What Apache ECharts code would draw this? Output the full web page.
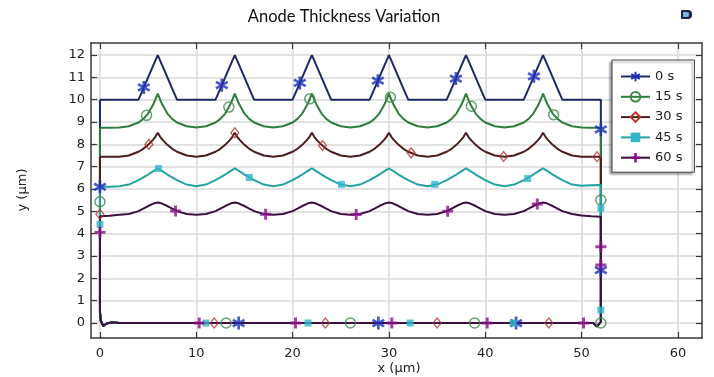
<!DOCTYPE html>
<html><head><meta charset="utf-8">
<script src="https://cdn.jsdelivr.net/npm/echarts@6/dist/echarts.min.js"></script>
<style>html,body{margin:0;padding:0;background:#fff}#c{width:714px;height:377px}</style>
</head><body><div id="c"></div>
<script>
// ---- data ----
const seriesNames = ['0 s', '15 s', '30 s', '45 s', '60 s'];
const xTicks = [0, 10, 20, 30, 40, 50, 60];
const yTicks = [0, 1, 2, 3, 4, 5, 6, 7, 8, 9, 10, 11, 12];

// x positions along the top (free) boundary
const topX = [0, 1,
  2, 3, 4, 4.5, 5, 5.5, 5.75, 6, 6.25, 6.5, 7, 7.5, 8, 9,
  10, 11, 12, 12.5, 13, 13.5, 13.75, 14, 14.25, 14.5, 15, 15.5, 16, 17,
  18, 19, 20, 20.5, 21, 21.5, 21.75, 22, 22.25, 22.5, 23, 23.5, 24, 25,
  26, 27, 28, 28.5, 29, 29.5, 29.75, 30, 30.25, 30.5, 31, 31.5, 32, 33,
  34, 35, 36, 36.5, 37, 37.5, 37.75, 38, 38.25, 38.5, 39, 39.5, 40, 41,
  42, 43, 44, 44.5, 45, 45.5, 45.75, 46, 46.25, 46.5, 47, 47.5, 48, 49,
  50, 51, 52];

const top0 = [10, 10,
  10, 10, 10, 10.5, 11, 11.5, 11.75, 12, 11.75, 11.5, 11, 10.5, 10, 10,
  10, 10, 10, 10.5, 11, 11.5, 11.75, 12, 11.75, 11.5, 11, 10.5, 10, 10,
  10, 10, 10, 10.5, 11, 11.5, 11.75, 12, 11.75, 11.5, 11, 10.5, 10, 10,
  10, 10, 10, 10.5, 11, 11.5, 11.75, 12, 11.75, 11.5, 11, 10.5, 10, 10,
  10, 10, 10, 10.5, 11, 11.5, 11.75, 12, 11.75, 11.5, 11, 10.5, 10, 10,
  10, 10, 10, 10.5, 11, 11.5, 11.75, 12, 11.75, 11.5, 11, 10.5, 10, 10,
  10, 10, 10];

const top15 = [8.75, 8.75,
  8.76, 8.81, 8.98, 9.14, 9.38, 9.76, 10.0, 10.27, 10.0, 9.76, 9.38, 9.14, 8.98, 8.81,
  8.76, 8.81, 8.98, 9.14, 9.38, 9.76, 10.0, 10.27, 10.0, 9.76, 9.38, 9.14, 8.98, 8.81,
  8.76, 8.81, 8.98, 9.14, 9.38, 9.76, 10.0, 10.27, 10.0, 9.76, 9.38, 9.14, 8.98, 8.81,
  8.76, 8.81, 8.98, 9.14, 9.38, 9.76, 10.0, 10.27, 10.0, 9.76, 9.38, 9.14, 8.98, 8.81,
  8.76, 8.81, 8.98, 9.14, 9.38, 9.76, 10.0, 10.27, 10.0, 9.76, 9.38, 9.14, 8.98, 8.81,
  8.76, 8.81, 8.98, 9.14, 9.38, 9.76, 10.0, 10.27, 10.0, 9.76, 9.38, 9.14, 8.98, 8.81,
  8.76, 8.75, 8.75];

const top30 = [7.45, 7.45,
  7.45, 7.5, 7.67, 7.8, 7.98, 8.2, 8.34, 8.52, 8.34, 8.2, 7.98, 7.8, 7.67, 7.5,
  7.45, 7.5, 7.67, 7.8, 7.98, 8.2, 8.34, 8.52, 8.34, 8.2, 7.98, 7.8, 7.67, 7.5,
  7.45, 7.5, 7.67, 7.8, 7.98, 8.2, 8.34, 8.52, 8.34, 8.2, 7.98, 7.8, 7.67, 7.5,
  7.45, 7.5, 7.67, 7.8, 7.98, 8.2, 8.34, 8.52, 8.34, 8.2, 7.98, 7.8, 7.67, 7.5,
  7.45, 7.5, 7.67, 7.8, 7.98, 8.2, 8.34, 8.52, 8.34, 8.2, 7.98, 7.8, 7.67, 7.5,
  7.45, 7.5, 7.67, 7.8, 7.98, 8.2, 8.34, 8.52, 8.34, 8.2, 7.98, 7.8, 7.67, 7.5,
  7.45, 7.45, 7.45];

const top45 = [6.1, 6.1,
  6.13, 6.2, 6.4, 6.52, 6.65, 6.79, 6.86, 6.93, 6.86, 6.79, 6.65, 6.52, 6.4, 6.2,
  6.13, 6.2, 6.4, 6.52, 6.65, 6.79, 6.86, 6.93, 6.86, 6.79, 6.65, 6.52, 6.4, 6.2,
  6.13, 6.2, 6.4, 6.52, 6.65, 6.79, 6.86, 6.93, 6.86, 6.79, 6.65, 6.52, 6.4, 6.2,
  6.13, 6.2, 6.4, 6.52, 6.65, 6.79, 6.86, 6.93, 6.86, 6.79, 6.65, 6.52, 6.4, 6.2,
  6.13, 6.2, 6.4, 6.52, 6.65, 6.79, 6.86, 6.93, 6.86, 6.79, 6.65, 6.52, 6.4, 6.2,
  6.13, 6.2, 6.4, 6.52, 6.65, 6.79, 6.86, 6.93, 6.86, 6.79, 6.65, 6.52, 6.4, 6.2,
  6.15, 6.17, 6.18];

const top60 = [4.78, 4.8,
  4.85, 4.88, 5.01, 5.12, 5.24, 5.34, 5.38, 5.4, 5.38, 5.34, 5.24, 5.12, 5.01, 4.88,
  4.85, 4.88, 5.01, 5.12, 5.24, 5.34, 5.38, 5.4, 5.38, 5.34, 5.24, 5.12, 5.01, 4.88,
  4.85, 4.88, 5.01, 5.12, 5.24, 5.34, 5.38, 5.4, 5.38, 5.34, 5.24, 5.12, 5.01, 4.88,
  4.85, 4.88, 5.01, 5.12, 5.24, 5.34, 5.38, 5.4, 5.38, 5.34, 5.24, 5.12, 5.01, 4.88,
  4.85, 4.88, 5.01, 5.12, 5.24, 5.34, 5.38, 5.4, 5.38, 5.34, 5.24, 5.12, 5.01, 4.88,
  4.85, 4.88, 5.01, 5.12, 5.24, 5.34, 5.38, 5.4, 5.38, 5.34, 5.24, 5.12, 5.01, 4.88,
  4.82, 4.78, 4.76];

// right side down, bottom boundary back to x = 0, then up the left side
const bottomPath = [[52, 0.05], [51.6, -0.15], [51.2, 0], [2, 0], [1.2, 0.03], [0.7, -0.02],
  [0.35, -0.13], [0.08, 0.1], [0, 0.5]];

// marker positions along each boundary
const marks0 = [[0, 6.1], [4.55, 10.55], [12.65, 10.65], [20.75, 10.75], [28.85, 10.85], [36.95, 10.95],
  [45.05, 11.05], [52, 8.67], [52, 2.37], [43.2, 0], [28.9, 0], [14.4, 0]];
const marks15 = [[0, 5.43], [4.84, 9.3], [13.38, 9.67], [21.78, 10.04], [30.15, 10.11], [38.56, 9.71],
  [47.1, 9.33], [52, 5.51], [52, 0], [38.9, 0], [26.0, 0], [13.1, 0]];
const marks30 = [[0, 4.87], [5.08, 8.0], [14.0, 8.52], [23.1, 7.95], [32.3, 7.62], [41.9, 7.46],
  [51.6, 7.45], [46.6, 0], [35.0, 0], [23.4, 0], [11.86, 0]];
const marks45 = [[0, 4.42], [6.09, 6.92], [15.5, 6.52], [25.07, 6.21], [34.75, 6.21], [44.4, 6.47],
  [52, 5.14], [52, 0.58], [42.9, 0], [32.2, 0], [21.6, 0], [11.0, 0]];
const marks60 = [[0, 4.06], [7.85, 5.02], [17.2, 4.87], [26.6, 4.86], [36.1, 5.01], [45.4, 5.33],
  [52, 3.42], [52, 2.6], [50.2, 0], [40.2, 0], [30.3, 0], [20.3, 0], [10.3, 0]];

// ---- styling ----
const lineColors = ['#1e2a66', '#2f7d3c', '#4d1c1c', '#22a3a0', '#3b0f3f'];
const markColors = ['#1a30b8', '#3d8b48', '#b8322a', '#33b5c9', '#8a0f8a'];
const STAR = 'path://M-1.6,-8L1.6,-8L1.6,8L-1.6,8Z M6.128,-5.386L7.728,-2.614L-6.128,5.386L-7.728,2.614Z M-7.728,-2.614L-6.128,-5.386L7.728,2.614L6.128,5.386Z';
const PLUS = 'path://M-1.6,-6L1.6,-6L1.6,-1.6L6,-1.6L6,1.6L1.6,1.6L1.6,6L-1.6,6L-1.6,1.6L-6,1.6L-6,-1.6L-1.6,-1.6Z';
const markStyles = [
  {symbol: STAR, size: 13, item: {color: markColors[0], borderWidth: 0}},
  {symbol: 'circle', size: 10, item: {color: 'rgba(255,255,255,0)', borderColor: markColors[1], borderWidth: 1.5}},
  {symbol: 'diamond', size: [8, 10], item: {color: 'rgba(255,255,255,0)', borderColor: markColors[2], borderWidth: 1.3}},
  {symbol: 'rect', size: 7, item: {color: markColors[3], borderWidth: 0}},
  {symbol: PLUS, size: 11, item: {color: markColors[4], borderWidth: 0}}
];
const tops = [top0, top15, top30, top45, top60];
const marks = [marks0, marks15, marks30, marks45, marks60];

const series = [];
tops.forEach((ys, i) => {
  const pts = topX.map((x, k) => [x, ys[k]]);
  pts.push([52, ys[ys.length - 1]]);
  bottomPath.forEach(p => pts.push(p));
  pts.push([0, ys[0]]);
  series.push({
    name: seriesNames[i], type: 'line', data: pts, showSymbol: false,
    symbol: markStyles[i].symbol, symbolSize: markStyles[i].size,
    itemStyle: markStyles[i].item,
    lineStyle: {color: lineColors[i], width: 2},
    emphasis: {disabled: true}, animation: false, z: 2 + i
  });
});
marks.forEach((m, i) => {
  series.push({
    name: seriesNames[i], type: 'scatter', data: m,
    symbol: markStyles[i].symbol, symbolSize: markStyles[i].size,
    itemStyle: markStyles[i].item, emphasis: {disabled: true}, animation: false, z: 10 + i
  });
});

const FONT = 'DejaVu Sans';
const axisCommon = {
  type: 'value',
  axisLine: {show: true, onZero: false, lineStyle: {color: '#3a3a3a', width: 1.5}},
  axisTick: {show: true, inside: true, length: 6, lineStyle: {color: '#3a3a3a', width: 1.2}},
  splitLine: {show: false}
};

const chart = echarts.init(document.getElementById('c'), null, {renderer: 'canvas'});
chart.setOption({
  animation: false,
  backgroundColor: '#ffffff',
  grid: {left: 91, right: 12, top: 43, bottom: 39, containLabel: false},
  xAxis: [
    Object.assign({}, axisCommon, {
      position: 'bottom', min: -0.93, max: 62.5,
      axisTick: Object.assign({}, axisCommon.axisTick, {customValues: xTicks}),
      axisLabel: {customValues: xTicks, margin: 9, fontFamily: FONT, fontSize: 13, color: '#222'},
      splitLine: {show: true, lineStyle: {color: '#d8d8d8', width: 1.5}}
    }),
    Object.assign({}, axisCommon, {
      position: 'top', min: -0.93, max: 62.5,
      axisTick: Object.assign({}, axisCommon.axisTick, {customValues: xTicks}),
      axisLabel: {show: false}
    })
  ],
  yAxis: [
    Object.assign({}, axisCommon, {
      position: 'left', min: -0.67, max: 12.54,
      axisTick: Object.assign({}, axisCommon.axisTick, {customValues: yTicks}),
      axisLabel: {customValues: yTicks, margin: 6, fontFamily: FONT, fontSize: 13, color: '#222'},
      splitLine: {show: true, lineStyle: {color: '#d8d8d8', width: 1.5}}
    }),
    Object.assign({}, axisCommon, {
      position: 'right', min: -0.67, max: 12.54,
      axisTick: Object.assign({}, axisCommon.axisTick, {customValues: yTicks}),
      axisLabel: {show: false}
    })
  ],
  legend: {
    data: seriesNames, orient: 'vertical', left: 612, top: 60,
    itemWidth: 29, itemHeight: 12, itemGap: 7.3,
    padding: [10, 12, 8, 8],
    backgroundColor: '#ffffff', borderColor: '#444', borderWidth: 1,
    shadowColor: 'rgba(0,0,0,0.35)', shadowBlur: 2, shadowOffsetX: -2, shadowOffsetY: 2,
    textStyle: {fontFamily: FONT, fontSize: 13, color: '#222'},
    selectedMode: false
  },
  graphic: [
    {type: 'text', x: 344, y: 17, z: 50,
      style: {text: 'Anode Thickness Variation', align: 'center', verticalAlign: 'middle',
        fontFamily: 'Lato', fontSize: 16.5, fill: '#111'}},
    {type: 'text', x: 399, y: 369, z: 50,
      style: {text: 'x (µm)', align: 'center', verticalAlign: 'middle', fontFamily: FONT, fontSize: 13, fill: '#222'}},
    {type: 'text', x: 23, y: 190, rotation: Math.PI / 2, z: 50,
      style: {text: 'y (µm)', align: 'center', verticalAlign: 'middle', fontFamily: FONT, fontSize: 13, fill: '#222'}},
    {type: 'rect', shape: {x: 681, y: 10, width: 11, height: 9, r: [1, 4, 4, 1]}, z: 50,
      style: {fill: '#1c2448'}},
    {type: 'rect', shape: {x: 683, y: 12, width: 6, height: 5, r: [0, 2, 2, 0]}, z: 51,
      style: {fill: '#7fb0e0'}}
  ],
  series: series
});
</script></body></html>
